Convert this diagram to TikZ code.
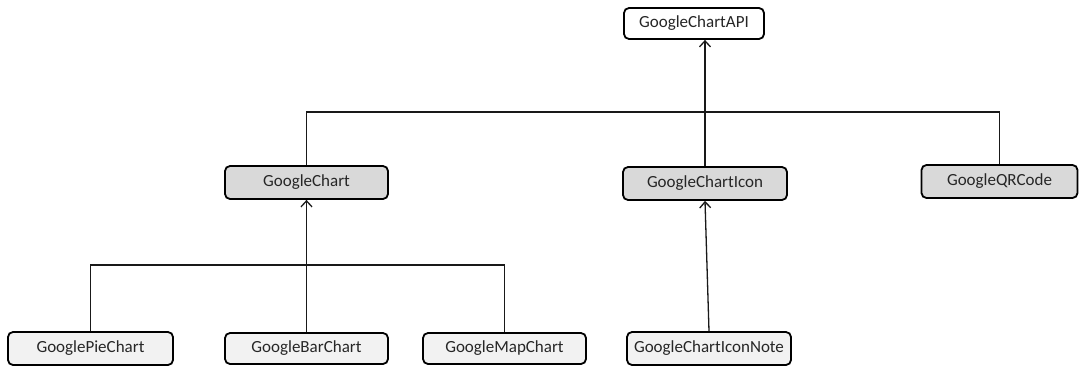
\documentclass[tikz,border=0pt]{standalone}
\usepackage{fontspec}
\setmainfont{Carlito}
\usetikzlibrary{arrows.meta}
\definecolor{midgray}{HTML}{D9D9D9}
\definecolor{lightgray}{HTML}{F2F2F2}
\tikzset{
  cls/.style={draw=black, line width=1.8pt, rounded corners=5pt, inner sep=0pt,
    font=\fontsize{17}{20}\selectfont, text=black!85},
  toplevel/.style={cls, fill=white},
  midlevel/.style={cls, fill=midgray},
  leaf/.style={cls, fill=lightgray},
  link/.style={draw=black!90, line width=1.3pt},
  inherit/.style={link, -{Straight Barb[length=6pt,width=11pt,line width=1.3pt]}}
}
\begin{document}
\begin{tikzpicture}[x=1pt,y=-1pt]
\useasboundingbox (0,0) rectangle (1079,367);
% class boxes
\node[toplevel, minimum width=140pt, minimum height=31pt] (api) at (694,23.5) {GoogleChartAPI};
\node[midlevel, minimum width=163pt, minimum height=33pt] (chart) at (306.5,182.5) {GoogleChart};
\node[midlevel, minimum width=164pt, minimum height=33pt] (icon) at (705,183.5) {GoogleChartIcon};
\node[midlevel, minimum width=156pt, minimum height=33pt] (qr) at (999.5,181.5) {GoogleQRCode};
\node[leaf, minimum width=165pt, minimum height=33pt] (pie) at (90.5,348.5) {GooglePieChart};
\node[leaf, minimum width=163pt, minimum height=31pt] (bar) at (306.5,348.5) {GoogleBarChart};
\node[leaf, minimum width=163pt, minimum height=31pt] (map) at (504.5,348.5) {GoogleMapChart};
\node[leaf, minimum width=164pt, minimum height=33pt] (note) at (709,348.5) {GoogleChartIconNote};
% bus lines
\coordinate (topbus) at (0,112);
\coordinate (lowbus) at (0,265);
\draw[link] (chart.north) |- (qr.north |- topbus) -- (qr.north);
\draw[link] (pie.north) |- (map.north |- lowbus) -- (map.north);
% inheritance arrows
\draw[inherit] (icon.north) -- (icon.north |- api.south);
\draw[inherit] (bar.north) -- (chart.south);
\draw[inherit] (note.north) -- (icon.south);
\end{tikzpicture}
\end{document}
